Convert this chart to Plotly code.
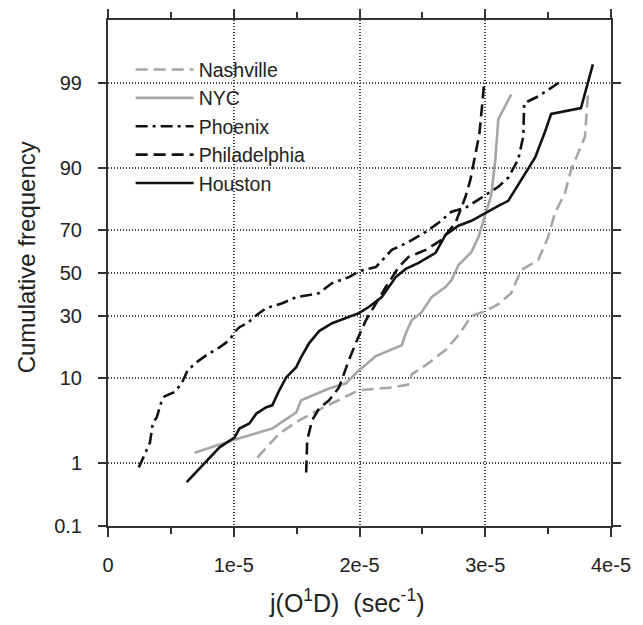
import math
import plotly.graph_objects as go

# ---- data (x in units of 1e-5 sec^-1, y = cumulative frequency in %) ----
x_unit = 1e-5

nashville_x = [1.188, 1.362, 1.52, 1.734, 1.995, 2.257, 2.399, 2.415, 2.526, 2.684, 2.787, 2.89,
               3.001, 3.104, 3.207, 3.286, 3.421, 3.5, 3.555, 3.634, 3.682, 3.793, 3.817]
nashville_p = [1.21, 2.5, 3.6, 5.2, 7.6, 8.1, 8.7, 10.8, 13.0, 17.3, 22.4, 29.9,
               32.1, 35.2, 40.3, 51.5, 56.3, 67.0, 76.9, 83.6, 89.6, 95.2, 98.6]

nyc_x = [0.689, 0.99, 1.306, 1.497, 1.536, 1.758, 1.892, 1.995, 2.13, 2.336, 2.368, 2.415,
         2.494, 2.573, 2.684, 2.732, 2.787, 2.89, 2.946, 3.001, 3.048, 3.08, 3.104, 3.207]
nyc_p = [1.41, 2.05, 2.87, 4.43, 6.0, 7.9, 8.9, 11.7, 15.5, 18.9, 23.1, 28.2,
         31.6, 38.4, 43.2, 46.6, 53.9, 60.1, 67.0, 76.1, 83.0, 91.7, 97.0, 98.54]

phoenix_x = [0.245, 0.333, 0.356, 0.388, 0.428, 0.451, 0.53, 0.586, 0.633, 0.705, 0.784, 0.887,
             0.966, 1.006, 1.045, 1.108, 1.18, 1.259, 1.386, 1.497, 1.6, 1.679, 1.782, 1.916,
             2.003, 2.13, 2.257, 2.391, 2.526, 2.629, 2.732, 2.843, 2.946, 3.025, 3.104, 3.183,
             3.262, 3.302, 3.31, 3.421, 3.603]
phoenix_p = [0.88, 1.9, 3.3, 3.9, 6.0, 6.6, 7.3, 8.9, 11.7, 13.8, 15.8, 18.2,
             20.6, 23.5, 25.4, 27.0, 30.3, 33.4, 35.6, 38.4, 39.4, 40.3, 45.1, 48.0,
             51.0, 52.9, 61.1, 64.8, 69.2, 73.0, 77.3, 78.7, 81.5, 83.6, 85.4, 87.8,
             91.7, 95.2, 98.1, 98.45, 99.04]

philadelphia_x = [1.576, 1.584, 1.623, 1.679, 1.758, 1.837, 1.916, 1.98, 2.051, 2.13, 2.209,
                  2.312, 2.391, 2.526, 2.652, 2.763, 2.843, 2.882, 2.914, 2.953, 2.977, 2.993]
philadelphia_p = [0.74, 2.05, 3.6, 4.9, 6.0, 8.1, 14.4, 20.6, 28.2, 35.6, 43.2,
                  52.9, 57.8, 61.1, 65.7, 73.0, 82.4, 87.3, 91.7, 95.5, 98.1, 99.07]

houston_x = [0.626, 0.784, 0.887, 1.006, 1.045, 1.124, 1.18, 1.259, 1.306, 1.362, 1.417, 1.497,
             1.536, 1.6, 1.679, 1.782, 1.916, 1.995, 2.074, 2.177, 2.288, 2.368, 2.47, 2.605,
             2.684, 2.787, 2.89, 3.001, 3.104, 3.183, 3.262, 3.341, 3.397, 3.476, 3.524, 3.761, 3.856]
houston_p = [0.53, 1.09, 1.66, 2.22, 2.87, 3.3, 4.3, 5.05, 5.3, 7.6, 10.1, 12.5,
             15.2, 19.6, 23.9, 27.0, 29.5, 31.2, 33.9, 38.4, 48.0, 52.0, 54.9, 59.7,
             67.9, 71.8, 73.8, 76.9, 79.4, 81.1, 85.9, 89.6, 92.1, 95.8, 97.4, 97.8, 99.46]

y_ticks = [0.1, 1, 10, 30, 50, 70, 90, 99]
y_tick_text = ["0.1", "1", "10", "30", "50", "70", "90", "99"]
x_major_ticks = [0, 1, 2, 3, 4]
x_all_ticks = [0, 0.5, 1, 1.5, 2, 2.5, 3, 3.5, 4]
x_all_tick_text = ["0", "", "1e-5", "", "2e-5", "", "3e-5", "", "4e-5"]


def probit(pct):
    """Inverse standard normal CDF of pct/100 (bisection on erf)."""
    p = pct / 100.0
    lo, hi = -8.0, 8.0
    for _ in range(80):
        mid = 0.5 * (lo + hi)
        if 0.5 * (1 + math.erf(mid / math.sqrt(2))) < p:
            lo = mid
        else:
            hi = mid
    return 0.5 * (lo + hi)


series = [
    ("Nashville", nashville_x, nashville_p, "#a6a6a6", "12px,6px"),
    ("NYC", nyc_x, nyc_p, "#a6a6a6", "solid"),
    ("Phoenix", phoenix_x, phoenix_p, "#111111", "12px,5px,3px,5px"),
    ("Philadelphia", philadelphia_x, philadelphia_p, "#111111", "12px,6px"),
    ("Houston", houston_x, houston_p, "#111111", "solid"),
]

x_range = [0, 4 * x_unit]

fig = go.Figure()
# empty helper trace so the overlay axis (long ticks + grid) is drawn
fig.add_trace(go.Scatter(x=x_range, y=[None, None], xaxis="x2", mode="lines",
                         showlegend=False, hoverinfo="skip"))
for name, xs, ps, color, dash in series:
    fig.add_trace(go.Scatter(
        x=[v * x_unit for v in xs],
        y=[probit(v) for v in ps],
        mode="lines",
        name=name,
        line=dict(color=color, width=2.6, dash=dash),
    ))

font_family = "Liberation Sans, Arial, sans-serif"
grid_style = dict(showgrid=True, gridcolor="#444444", gridwidth=1.5, griddash="1px,2px")

fig.update_layout(
    width=643, height=625,
    margin=dict(l=108, r=30, t=20, b=99),
    paper_bgcolor="white", plot_bgcolor="white",
    font=dict(family=font_family, size=20, color="#222222"),
    showlegend=True,
    legend=dict(
        x=0.045, y=0.94, xanchor="left", yanchor="top",
        bgcolor="rgba(0,0,0,0)", font=dict(size=19.5, color="#222222"),
        itemwidth=58, tracegroupgap=0,
    ),
    # main x axis: short ticks every 0.5e-5 (labels at whole steps), no grid
    xaxis=dict(
        range=x_range,
        tickmode="array",
        tickvals=[v * x_unit for v in x_all_ticks], ticktext=x_all_tick_text,
        showline=True, linecolor="#333333", linewidth=2, mirror="ticks",
        ticks="outside", ticklen=6, tickwidth=1.5, tickcolor="#333333",
        ticklabelstandoff=14,
        showgrid=False, zeroline=False,
        tickfont=dict(size=20),
    ),
    # overlay x axis: long ticks and dotted grid at whole steps
    xaxis2=dict(
        range=x_range, overlaying="x", side="bottom", anchor="y",
        tickmode="array", tickvals=[v * x_unit for v in x_major_ticks],
        showticklabels=False, showline=False, mirror="ticks",
        ticks="outside", ticklen=10, tickwidth=1.5, tickcolor="#333333",
        zeroline=False,
        **grid_style,
    ),
    yaxis=dict(
        range=[probit(0.1), probit(99.9)],
        tickmode="array",
        tickvals=[probit(v) for v in y_ticks], ticktext=y_tick_text,
        showline=True, linecolor="#333333", linewidth=2, mirror="ticks",
        ticks="outside", ticklen=8, tickwidth=1.5, tickcolor="#333333",
        ticklabelstandoff=12,
        zeroline=False,
        tickfont=dict(size=20),
        **grid_style,
    ),
    annotations=[
        dict(text="Cumulative frequency", xref="paper", yref="paper",
             x=-0.162, y=0.53, xanchor="center", yanchor="middle",
             textangle=-90, showarrow=False, font=dict(size=24)),
        dict(text="j(O<sup>1</sup>D)&nbsp;&nbsp;(sec<sup>-1</sup>)", xref="paper", yref="paper",
             x=0.475, y=-0.148, xanchor="center", yanchor="middle",
             showarrow=False, font=dict(size=25)),
    ],
)

fig.write_html("out.html")
